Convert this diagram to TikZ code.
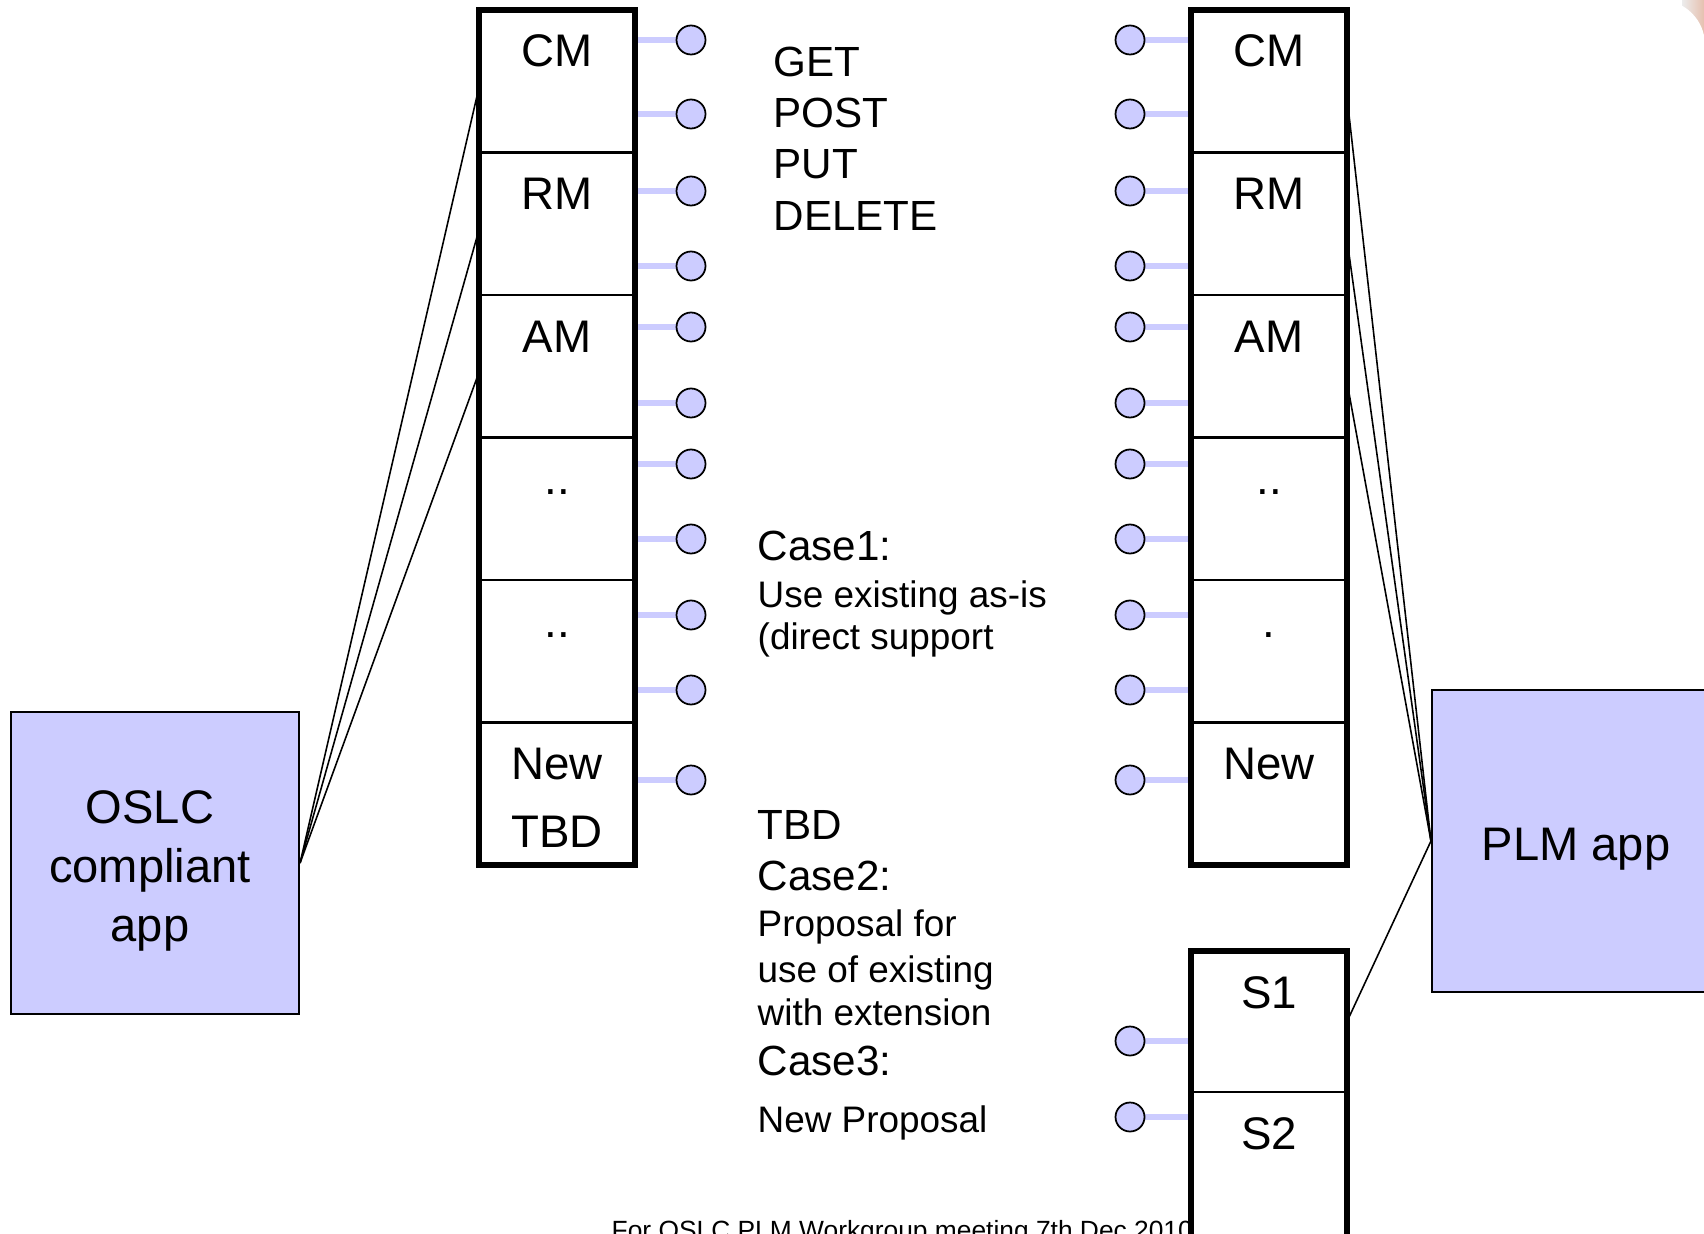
\documentclass[tikz,border=0pt]{standalone}
\usepackage{fontspec}
\setmainfont{Liberation Sans}
\usepackage{tikz}
\usetikzlibrary{
  positioning,
  backgrounds
}
\definecolor{lav}{RGB}{204,204,255}
\definecolor{blob}{RGB}{228,180,158}

\begin{document}
\begin{tikzpicture}[
    cell/.style={draw, line width=0.7pt, minimum width=1.56cm, minimum height=1.425cm,
                 anchor=north, inner sep=0pt, outer sep=0pt},
    colbox/.style={draw, line width=1.6pt},
    lbl/.style={anchor=base, inner sep=0pt, font=\fontsize{13}{15}\selectfont},
    port/.style={circle, draw, fill=lav, minimum size=0.29cm, inner sep=0pt, line width=0.5pt},
    pin/.style={draw=lav, line width=1.7pt},
    app/.style={draw, fill=lav, line width=0.6pt, minimum width=2.88cm, minimum height=3.02cm},
    apptxt/.style={align=center, inner sep=0pt, font=\fontsize{13.4}{16.8}\selectfont},
    wire/.style={-, line width=0.45pt},
    big/.style={anchor=base west, inner sep=0pt, font=\fontsize{12}{14}\selectfont},
    small/.style={anchor=base west, inner sep=0pt, font=\fontsize{10.5}{12}\selectfont}
  ]
    \useasboundingbox (0,0) rectangle (17.04,-12.33);
    \clip (0,0) rectangle (17.04,-12.33);
    \shade[left color=gray!15, right color=blob] (16.82,0.10) rectangle (17.10,-0.40);
    \fill[white] (16.60,-0.45) circle (0.45);
    \node[anchor=base west, inner sep=0pt, font=\fontsize{7.5}{9}\selectfont] (foot)
      at (6.11,-12.39) {For OSLC PLM Workgroup meeting 7th Dec 2010};
    % services of the OSLC side
    \foreach \t [count=\i] in {CM,RM,AM,{..},{..},New} {
      \node[cell] (L\i) at (5.57,{-0.10-1.425*(\i-1)}) {};
      \node[lbl] (lt\i) at ([yshift=-0.57cm]L\i.north) {\t};
    }
    \node[lbl] (ltbd) at ([yshift=-1.25cm]L6.north) {TBD};
    \draw[colbox] (L1.north west) rectangle (L6.south east);
    % services of the PLM side
    \foreach \t [count=\i] in {CM,RM,AM,{..},{.},New} {
      \node[cell] (R\i) at (12.69,{-0.10-1.425*(\i-1)}) {};
      \node[lbl] (rt\i) at ([yshift=-0.57cm]R\i.north) {\t};
    }
    \draw[colbox] (R1.north west) rectangle (R6.south east);
    \node[cell, minimum height=1.41cm] (S1) at (12.69,-9.51) {};
    \node[cell, minimum height=1.6cm] (S2) at (S1.south) {};
    \node[lbl] (st1) at ([yshift=-0.57cm]S1.north) {S1};
    \node[lbl] (st2) at ([yshift=-0.57cm]S2.north) {S2};
    \draw[colbox] (S1.north west) rectangle (S2.south east);
    % ports
    \foreach \y [count=\i] in {0.40,1.14,1.91,2.66,3.27,4.03,4.64,5.39,6.15,6.90,7.80} {
      \node[port] (pl\i) at (6.91,-\y) {};
      \node[port] (pr\i) at (11.30,-\y) {};
    }
    \node[port] (ps1) at (11.30,-10.41) {};
    \node[port] (ps2) at (11.30,-11.17) {};
    \begin{scope}[on background layer]
      \foreach \i in {1,...,11} {
        \draw[pin] (pl\i) -- (pl\i -| L1.east);
        \draw[pin] (pr\i) -- (pr\i -| R1.west);
      }
      \draw[pin] (ps1) -- (ps1 -| S1.west);
      \draw[pin] (ps2) -- (ps2 -| S1.west);
    \end{scope}
    % applications
    \node[app] (oslc) at (1.55,-8.63) {};
    \node[app] (plm)  at (15.76,-8.41) {};
    \node[apptxt] (oslct) at ([xshift=-0.05cm,yshift=-0.08cm]oslc.center) {OSLC\\compliant\\app};
    \node[apptxt] (plmt)  at ([yshift=-0.08cm]plm.center) {PLM app};
    \foreach \i in {1,2,3} \draw[wire] (oslc.east) -- ([yshift=-0.06cm]L\i.west);
    \foreach \i in {1,2,3} \draw[wire] (plm.west) -- ([yshift=-0.16cm]R\i.east);
    \draw[wire] (plm.west) -- (S1.east);
    % texts in the middle
    \node[big] (get)  at (7.73,-0.77) {GET};
    \node[big] (post) at (7.73,-1.28) {POST};
    \node[big] (put)  at (7.73,-1.79) {PUT};
    \node[big] (del)  at (7.73,-2.31) {DELETE};
    \node[big]   (c1)  at (7.57,-5.60) {Case1:};
    \node[small] (c1a) at (7.57,-6.07) {Use existing as-is};
    \node[small] (c1b) at (7.57,-6.49) {(direct support};
    \node[big]   (tbd) at (7.57,-8.39) {TBD};
    \node[big]   (c2)  at (7.57,-8.90) {Case2:};
    \node[small] (c2a) at (7.57,-9.36) {Proposal for};
    \node[small] (c2b) at (7.57,-9.82) {use of existing};
    \node[small] (c2c) at (7.57,-10.25) {with extension};
    \node[big]   (c3)  at (7.57,-10.75) {Case3:};
    \node[small] (c3a) at (7.57,-11.32) {New Proposal};
  \end{tikzpicture}
\end{document}
